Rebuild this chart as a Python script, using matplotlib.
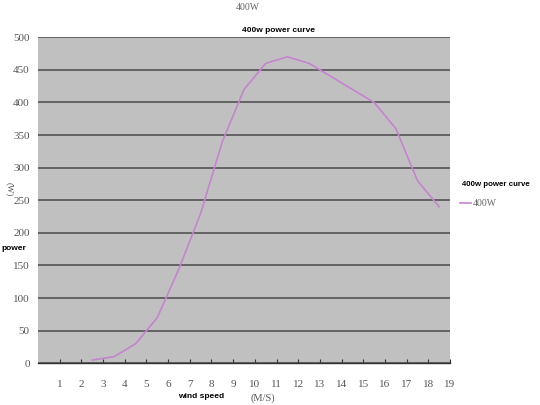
import matplotlib
matplotlib.use("Agg")
import matplotlib.pyplot as plt

# wind speed (m/s) and output power (W)
wind_speed = [2.5, 3.5, 4.5, 5.5, 6.5, 7.5, 8.5, 9.5, 10.5, 11.5, 12.5, 13.5, 14.5, 15.5, 16.5, 17.5, 18.5]
power = [5, 10, 30, 70, 145, 230, 340, 420, 460, 470, 460, 440, 420, 400, 360, 280, 240]
x_ticks = list(range(1, 20))
y_ticks = list(range(0, 501, 50))

series_name = "400W"
chart_title = "400w power curve"

label_font = ["DejaVu Sans Condensed", "Liberation Sans", "DejaVu Sans"]
num_font = ["Liberation Serif", "DejaVu Serif"]

fig = plt.figure(figsize=(5.4, 4.05), dpi=100)
ax = fig.add_axes([0.0704, 0.103, 0.763, 0.805])
ax.set_facecolor("#c0c0c0")

ax.plot(wind_speed, power, color="#c584cf", lw=1.2, label=series_name)

ax.set_xlim(0, 19)
ax.set_ylim(0, 500)
ax.set_xticks(x_ticks)
ax.set_yticks(y_ticks)
ax.grid(axis="y", color="#4a4a4a", lw=1.1)
ax.set_axisbelow(True)

for side in ("left", "right", "top"):
    ax.spines[side].set_visible(False)
ax.spines["bottom"].set_color("#333333")
ax.spines["bottom"].set_linewidth(1.0)

ax.tick_params(axis="x", direction="in", length=3, color="#333333",
               labelsize=8, labelcolor="#555555", pad=12)
ax.tick_params(axis="y", length=0, labelsize=8, labelcolor="#555555", pad=6)
for lbl in ax.get_xticklabels() + ax.get_yticklabels():
    lbl.set_family(num_font)

# titles and axis captions placed like the original
fig.text(248 / 540, 1 - 7 / 405, series_name, ha="center", va="center",
         fontsize=7, color="#666666", family=num_font)
fig.text(278 / 540, 1 - 31 / 405, chart_title, ha="center", va="center",
         fontsize=6, fontweight="bold", color="black", family=label_font)
fig.text(201 / 540, 1 - 397 / 405, "wind speed", ha="center", va="center",
         fontsize=6, fontweight="bold", color="black", family=label_font)
fig.text(263 / 540, 1 - 398 / 405, "(M/S)", ha="center", va="center",
         fontsize=7.5, color="#555555", family=num_font)
fig.text(1 / 540, 1 - 249 / 405, "power", ha="left", va="center",
         fontsize=6, fontweight="bold", color="black", family=label_font)
fig.text(9 / 540, 1 - 189 / 405, "(W)", ha="center", va="center", rotation=270,
         fontsize=6.5, color="#555555", family=num_font)

# legend to the right of the plot
fig.text(462 / 540, 1 - 184 / 405, chart_title, ha="left", va="center",
         fontsize=5.7, fontweight="bold", color="black", family=label_font)
fig.add_artist(plt.Line2D([460 / 540, 471 / 540], [1 - 203 / 405, 1 - 203 / 405],
                          color="#c584cf", lw=1.2))
fig.text(473 / 540, 1 - 203 / 405, series_name, ha="left", va="center",
         fontsize=7, color="#666666", family=num_font)

fig.savefig("out.png", dpi=100)
